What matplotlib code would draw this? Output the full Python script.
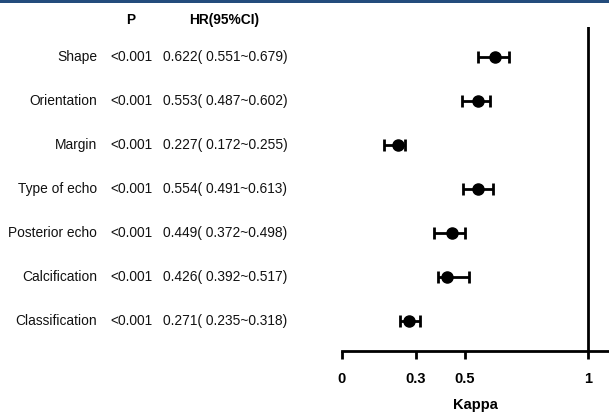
import matplotlib
matplotlib.use("Agg")
import matplotlib.pyplot as plt
from matplotlib.transforms import blended_transform_factory

plt.rcParams['font.family'] = ['Liberation Sans', 'DejaVu Sans']

categories = ["Shape", "Orientation", "Margin", "Type of echo",
              "Posterior echo", "Calcification", "Classification"]
p_values = ["<0.001"] * 7
kappa = [0.622, 0.553, 0.227, 0.554, 0.449, 0.426, 0.271]
ci_low = [0.551, 0.487, 0.172, 0.491, 0.372, 0.392, 0.235]
ci_high = [0.679, 0.602, 0.255, 0.613, 0.498, 0.517, 0.318]
xticks = [0, 0.3, 0.5, 1]
xtick_labels = ["0", "0.3", "0.5", "1"]

W, H = 609, 412
fig = plt.figure(figsize=(W / 100, H / 100), dpi=100)

# top blue band
fig.add_artist(plt.Rectangle((0, 1 - 3 / H), 1, 3 / H, transform=fig.transFigure,
                             color="#234c7c", lw=0))

ax = fig.add_axes([342 / W, (H - 351) / H, (W - 342) / W, (351 - 27) / H])
n = len(categories)
ys = [n - 1 - i for i in range(n)]
xerr = [[k - l for k, l in zip(kappa, ci_low)], [h - k for k, h in zip(kappa, ci_high)]]
ax.errorbar(kappa, ys, xerr=xerr, fmt='o', color='black', ms=8, elinewidth=2,
            capsize=4.5, capthick=2)
ax.axvline(1, color='black', lw=2)
ax.set_xlim(0, (W - 342) / 246)
ax.set_ylim(-30 / 44, n - 1 + 30 / 44)
for s in ["top", "right", "left"]:
    ax.spines[s].set_visible(False)
ax.spines["bottom"].set_linewidth(2)
ax.set_yticks([])
ax.set_xticks(xticks)
ax.set_xticklabels(xtick_labels, fontweight='bold', fontsize=10.5)
ax.tick_params(axis='x', direction='out', length=6, width=2, pad=9)
ax.set_xlabel("Kappa", fontweight='bold', fontsize=10.5, labelpad=9)

fs = 9.9
tr = blended_transform_factory(fig.transFigure, ax.transData)
for y, c, p, k, l, h in zip(ys, categories, p_values, kappa, ci_low, ci_high):
    fig.text(97 / W, y, c, transform=tr, ha='right', va='center', fontsize=fs, color='#111111')
    fig.text(110 / W, y, p, transform=tr, ha='left', va='center', fontsize=fs, color='#111111')
    fig.text(163 / W, y, f"{k:.3f}( {l:.3f}~{h:.3f})", transform=tr,
             ha='left', va='center', fontsize=fs, color='#111111')

fig.text(131 / W, 1 - 20 / H, "P", ha='center', va='center', fontweight='bold', fontsize=fs)
fig.text(224 / W, 1 - 20 / H, "HR(95%CI)", ha='center', va='center', fontweight='bold', fontsize=fs)

fig.savefig("out.png", dpi=100)
